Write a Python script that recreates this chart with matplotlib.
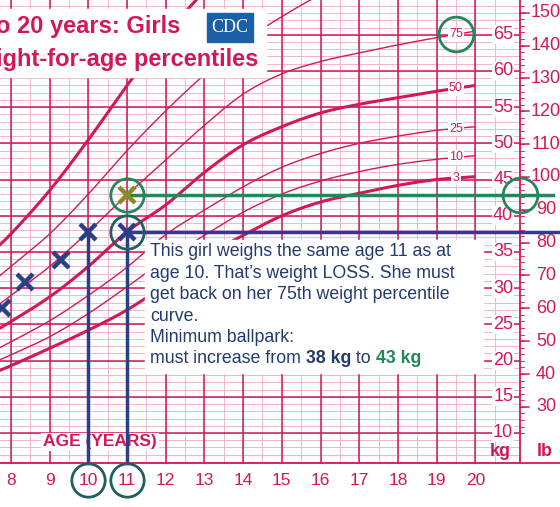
import matplotlib
matplotlib.use("Agg")
import matplotlib.pyplot as plt
import numpy as np
from matplotlib.patches import Rectangle

plt.rcParams['font.family'] = ['Liberation Sans', 'DejaVu Sans']

ages = [7.5, 8, 9, 10, 11, 12, 13, 14, 15, 16, 17, 18, 19, 20]
p3  = [18.2, 19.3, 21.7, 24.2, 27.0, 30.5, 34.3, 37.3, 40.0, 41.9, 43.1, 44.2, 45.0, 45.4]
p10 = [19.6, 20.8, 23.3, 26.5, 30.2, 34.0, 37.3, 40.5, 43.0, 44.8, 46.1, 47.1, 47.8, 48.3]
p25 = [21.2, 22.6, 25.5, 29.0, 32.9, 37.4, 40.8, 44.0, 46.7, 48.6, 50.0, 51.0, 51.8, 52.3]
p50 = [23.8, 25.4, 28.8, 33.0, 37.8, 41.5, 46.0, 49.8, 52.3, 54.2, 55.4, 56.3, 57.2, 58.0]
p75 = [27.0, 29.0, 33.0, 37.8, 42.9, 47.7, 52.5, 56.8, 59.6, 61.3, 62.5, 63.6, 64.6, 65.5]
p90 = [30.8, 33.0, 37.5, 43.0, 49.0, 54.5, 59.5, 64.0, 67.5, 70.5, 72.5, 74.0, 75.0, 76.0]
p97 = [35.0, 37.5, 43.5, 50.5, 58.0, 65.0, 71.0, 76.0, 80.0, 83.0, 85.0, 86.0, 87.0, 88.0]
curve_labels = ["3", "10", "25", "50", "75"]
age_ticks = [8, 9, 10, 11, 12, 13, 14, 15, 16, 17, 18, 19, 20]
kg_ticks = [10, 15, 20, 25, 30, 35, 40, 45, 50, 55, 60, 65]
lb_ticks = [30, 40, 50, 60, 70, 80, 90, 100, 110, 120, 130, 140, 150]
girl_ages = [7.77, 8.36, 9.29, 10.0, 11.0]
girl_kg = [27.3, 30.9, 33.9, 37.8, 37.8]
target_age = 11.0
target_kg = 42.9

MAG = "#d0185a"
MINOR = "#f0b6c8"
NAVY = "#223a6e"
BLUE = "#2b3f86"
GREEN = "#23875a"
TEAL = "#1f5f60"


def smooth(xs, ys, n=20):
    xs = np.asarray(xs, float); ys = np.asarray(ys, float)
    X = np.concatenate([[2 * xs[0] - xs[1]], xs, [2 * xs[-1] - xs[-2]]])
    Y = np.concatenate([[2 * ys[0] - ys[1]], ys, [2 * ys[-1] - ys[-2]]])
    ox, oy = [], []
    for i in range(1, len(X) - 2):
        t = np.linspace(0, 1, n, endpoint=False)
        for arr, out in ((X, ox), (Y, oy)):
            p0, p1, p2, p3_ = arr[i - 1], arr[i], arr[i + 1], arr[i + 2]
            out.extend(0.5 * ((2 * p1) + (-p0 + p2) * t + (2 * p0 - 5 * p1 + 4 * p2 - p3_) * t ** 2
                              + (-p0 + 3 * p1 - 3 * p2 + p3_) * t ** 3))
    ox.append(xs[-1]); oy.append(ys[-1])
    return ox, oy


fig = plt.figure(figsize=(5.6, 5.07), dpi=100)
ax = fig.add_axes([0, 0, 1, 1])
ax.set_xlim(7.716, 22.19)
ax.set_ylim(-0.22, 69.8)
ax.axis('off')

KGAX = 21.15
BOT = 5.86
for k in range(6, 70):
    ax.plot([7.7, KGAX], [k, k], color=MINOR, lw=0.7, zorder=1)
for a in np.arange(7.5, 20.6, 0.5):
    ax.plot([a, a], [BOT, 70], color=MINOR, lw=0.7, zorder=1)
for k in range(10, 70, 5):
    ax.plot([7.7, KGAX], [k, k], color=MAG, lw=1.1, zorder=2)
for a in age_ticks:
    ax.plot([a, a], [BOT, 70], color=MAG, lw=1.1, zorder=2)
ax.plot([KGAX, KGAX], [BOT - 6, 70], color=MAG, lw=1.3, zorder=2)
ax.add_patch(Rectangle((7.7, -1), 14.6, BOT + 1 - 0.1, color='white', zorder=2.5))
ax.plot([7.7, 22.2], [BOT, BOT], color=MAG, lw=1.3, zorder=3)

for vals, lw in [(p3, 2.2), (p10, 1.0), (p25, 1.0), (p50, 2.2), (p75, 1.0), (p90, 1.0), (p97, 2.2)]:
    sx, sy = smooth(ages, vals)
    ax.plot(sx, sy, color=MAG, lw=lw, zorder=4, solid_capstyle='butt')
for lab, vals in zip(curve_labels, [p3, p10, p25, p50, p75]):
    y = np.interp(19.5, ages, vals)
    ax.text(19.5, y, lab, fontsize=9, color=MAG, ha='center', va='center', zorder=6,
            bbox=dict(boxstyle='square,pad=0.1', fc='white', ec='none'))

for k in kg_ticks:
    ax.text(20.72, k, str(k), fontsize=13, color=MAG, ha='center', va='center', zorder=6,
            bbox=dict(boxstyle='square,pad=0.05', fc='white', ec='none'))
for lb in lb_ticks:
    kg = lb * 0.4536
    ax.plot([KGAX, KGAX + 0.25], [kg, kg], color=MAG, lw=1.1, zorder=3)
    ax.text(21.83, kg, str(lb), fontsize=13, color=MAG, ha='center', va='center', zorder=6)
for lb in range(22, 154, 2):
    kg = lb * 0.4536
    ax.plot([KGAX, KGAX + 0.1], [kg, kg], color=MAG, lw=0.6, zorder=3)
ax.text(20.65, 7.4, "kg", fontsize=13, color=MAG, ha='center', va='center', weight='bold', zorder=6)
ax.text(21.8, 7.4, "lb", fontsize=13, color=MAG, ha='center', va='center', weight='bold', zorder=6)
for a in age_ticks:
    ax.text(a, 3.5, str(a), fontsize=12.5, color=MAG, ha='center', va='center', zorder=6)
ax.text(10.3, 8.76, "AGE (YEARS)", fontsize=12.5, color=MAG, ha='center', va='center', weight='bold',
        zorder=6, bbox=dict(boxstyle='square,pad=0.1', fc='white', ec='none'))

ax.plot([10, 10], [37.8, 5.9], color=BLUE, lw=2.5, zorder=7)
ax.plot([11, 11], [37.8, 5.9], color=BLUE, lw=2.5, zorder=7)
ax.plot([target_age, 22.2], [37.8, 37.8], color=BLUE, lw=2.5, zorder=7)
ax.plot([target_age, 22.0], [target_kg, target_kg], color=GREEN, lw=2.5, zorder=7)

ax.add_patch(Rectangle((11.46, 18.3), 8.74, 18.36, color='white', zorder=8))
lines_y = [35.0, 32.05, 29.1, 26.15, 23.2]
txt = ["This girl weighs the same age 11 as at",
       "age 10. That\u2019s weight LOSS. She must",
       "get back on her 75th weight percentile",
       "curve.",
       "Minimum ballpark:"]
FS = 12.8
for t, y in zip(txt, lines_y):
    ax.text(11.6, y, t, fontsize=FS, color=NAVY, ha='left', va='center', zorder=9)
y6 = 20.25
t1 = ax.text(11.6, y6, "must increase from ", fontsize=FS, color=NAVY, ha='left', va='center', zorder=9)
t2 = ax.annotate("38 kg", xycoords=t1, xy=(1, 0.5), va='center', fontsize=FS, color=NAVY, weight='bold', zorder=9)
t3 = ax.annotate(" to ", xycoords=t2, xy=(1, 0.5), va='center', fontsize=FS, color=NAVY, zorder=9)
ax.annotate("43 kg", xycoords=t3, xy=(1, 0.5), va='center', fontsize=FS, color=GREEN, weight='bold', zorder=9)

ax.plot(girl_ages, girl_kg, 'x', color=BLUE, ms=11, mew=3.2, zorder=10, ls='none')
ax.plot([target_age], [target_kg], 'x', color="#8a8a22", ms=11, mew=3.2, zorder=10)
ax.plot([11], [37.8], 'o', mfc='none', mec=TEAL, ms=24, mew=2, zorder=10)
ax.plot([target_age], [target_kg], 'o', mfc='none', mec=GREEN, ms=24, mew=2, zorder=10)
ax.plot([21.15], [target_kg], 'o', mfc='none', mec=GREEN, ms=25, mew=2, zorder=10)
ax.plot([19.5], [np.interp(19.5, ages, p75)], 'o', mfc='none', mec=GREEN, ms=25, mew=2, zorder=10)
ax.plot([10, 11], [3.5, 3.5], 'o', mfc='none', mec=TEAL, ms=24, mew=2, zorder=10)

ax.add_patch(Rectangle((7.6, 59.2), 7.0, 9.4, color='white', zorder=11))
ax.text(7.62, 66.2, "o 20 years: Girls", fontsize=17, color=MAG, weight='bold', ha='left', va='center', zorder=12)
ax.text(7.62, 61.6, "ight-for-age percentiles", fontsize=17, color=MAG, weight='bold', ha='left', va='center', zorder=12)
ax.add_patch(Rectangle((13.06, 64.0), 1.19, 4.0, color="#1b5fa8", zorder=12))
ax.text(13.65, 66.0, "CDC", fontsize=13, color='white', ha='center', va='center', zorder=13,
        family=['Liberation Serif', 'DejaVu Serif'])

fig.savefig("out.png", dpi=100)
